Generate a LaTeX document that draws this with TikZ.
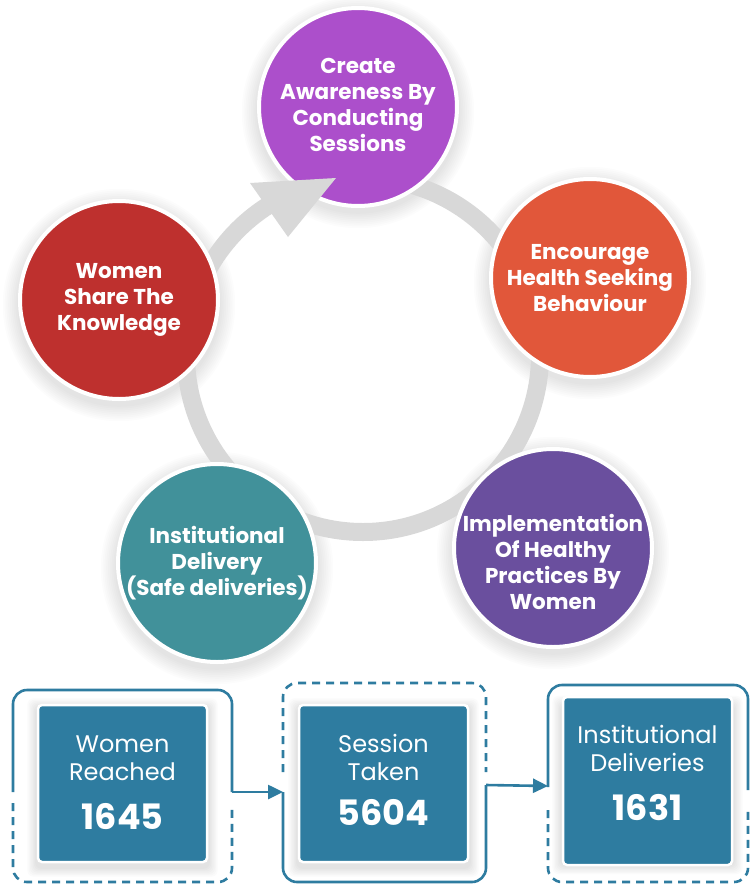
\documentclass[tikz,border=0pt]{standalone}
\usepackage{fontspec}
\setmainfont{Poppins}
\usetikzlibrary{arrows.meta}
\definecolor{cPurple}{HTML}{AC4FCB}
\definecolor{cOrange}{HTML}{E1573A}
\definecolor{cViolet}{HTML}{6A4F9E}
\definecolor{cTeal}{HTML}{41919A}
\definecolor{cRed}{HTML}{BE302E}
\definecolor{ringgray}{HTML}{D8D8D8}
\definecolor{boxblue}{HTML}{2E7CA0}
\tikzset{
  bubbletext/.style={text=white, align=center, inner sep=0pt,
    font=\bfseries\fontsize{21.5}{26}\selectfont},
  bubble/.style={circle, fill=#1, draw=white, line width=4pt, inner sep=0pt,
    minimum size=198pt, bubbletext},
  frameline/.style={draw=boxblue, line width=2.6pt, rounded corners=14pt},
  framedash/.style={frameline, dash pattern=on 8pt off 6pt},
  statbox/.style={rectangle, rounded corners=4pt, fill=boxblue, draw=white,
    line width=2.5pt, minimum width=169pt, minimum height=157pt},
  statlabel/.style={text=white, align=center, font=\fontsize{24}{28}\selectfont},
  statnum/.style={text=white, font=\bfseries\fontsize{35}{35}\selectfont},
  flowarrow/.style={draw=boxblue, line width=2.6pt, -{Triangle[length=15pt,width=14pt]}}
}
\begin{document}
\begin{tikzpicture}[x=1pt,y=-1pt]
\useasboundingbox (0,0) rectangle (755,884);
\fill[white] (0,0) rectangle (755,884);

% soft shadows of the circles
\foreach \cx/\cy in {358/107, 590/278, 553/548, 217/563, 119/300}{
  \foreach \k in {1,...,9}{
    \fill[black, opacity=0.010] (\cx,\cy+5) circle [radius={(100+1.8*\k)*1pt}];
  }
}

% ring
\draw[ringgray, line width=18pt] (363,355) circle [radius=177pt];

% circles
\node[bubble=cPurple] (c1) at (358,107) {\raisebox{2pt}{\begin{tabular}{@{}c@{}}Create\\Awareness By\\Conducting\\Sessions\end{tabular}}};
\node[bubble=cOrange] (c2) at (590,278) {Encourage\\Health Seeking\\Behaviour};
\node[bubble=cViolet] (c3) at (553,548) {};
\node[bubbletext] (c3t) at (553,562) {Implementation\\Of Healthy\\Practices By\\Women};
\node[bubble=cTeal] (c4) at (217,563) {Institutional\\Delivery\\(Safe deliveries)};
\node[bubble=cRed] (c5) at (119,300) {Women\\Share The\\Knowledge};

% arrow head of the cycle
\fill[ringgray] (250,183) -- (336,178) -- (288,237) -- cycle;

% shadows of the stat boxes
\foreach \bx/\by in {122.5/783.5, 383.5/783.5, 647.5/781}{
  \foreach \k in {1,...,7}{
    \fill[black, opacity=0.014, rounded corners=6pt]
      ({\bx-86-1.3*\k},{\by-80-1.3*\k+4}) rectangle ({\bx+86+1.3*\k},{\by+80+1.3*\k+4});
  }
}

% frames
\draw[frameline] (13,792) -- (13,690) -- (232,690) -- (232,792);
\draw[framedash] (13,803) -- (13,882) -- (232,882) -- (232,806);
\draw[framedash] (283,772) -- (283,683) -- (486,683) -- (486,772);
\draw[frameline] (283,792) -- (283,882) -- (486,882) -- (486,785);
\draw[frameline] (548,787) -- (548,685) -- (748,685) -- (748,790);
\draw[framedash] (548,810) -- (548,882) -- (748,882) -- (748,810);

\coordinate (f1out) at (232,792);
\coordinate (f2in) at (283,792);
\coordinate (f2out) at (486,785);
\coordinate (f3in) at (548,786);
\draw[flowarrow] (f1out) -- (f2in);
\draw[flowarrow] (f2out) -- (f3in);

% stat boxes
\node[statbox] (b1) at (122.5,783.5) {};
\node[statbox] (b2) at (383.5,783.5) {};
\node[statbox, minimum height=168pt] (b3) at (647.5,781) {};

\node[statlabel] (l1) at (122.5,758) {Women\\Reached};
\node[statnum] (n1) at (122.5,817) {1645};
\node[statlabel] (l2) at (383.5,757) {Session\\Taken};
\node[statnum] (n2) at (383.5,813) {5604};
\node[statlabel] (l3) at (647.5,748) {Institutional\\Deliveries};
\node[statnum] (n3) at (647.5,808) {1631};
\end{tikzpicture}
\end{document}
